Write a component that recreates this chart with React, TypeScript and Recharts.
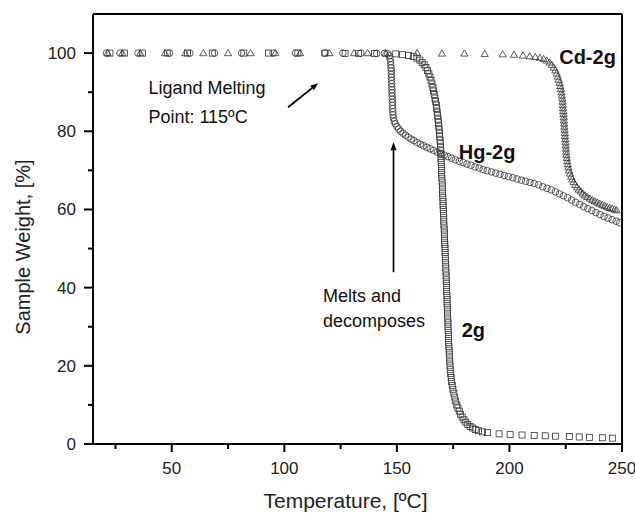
import React from 'react';
import { ScatterChart, Scatter, XAxis, YAxis, ReferenceLine, ReferenceDot, Label } from 'recharts';

// ---- data: temperature (ºC) and sample weight (%) ----
const T_2G = [22.5, 29, 37, 48, 57, 68, 82, 93, 106, 118, 127, 133, 140, 149.5, 152.5, 155.2, 157.3, 158.9, 160.2, 161.2, 162.1, 162.9, 163.6, 164.2, 164.7, 165.2, 165.6, 166.0, 166.3, 166.6, 166.9, 167.2, 167.5, 167.7, 167.9, 168.1, 168.3, 168.5, 168.6, 168.8, 168.9, 169.0, 169.2,
  169.3, 169.4, 169.5, 169.6, 169.6, 169.7, 169.8, 169.9, 169.9, 170.0, 170.1, 170.2, 170.2, 170.3, 170.4, 170.5, 170.5, 170.6, 170.7, 170.8, 170.8, 170.9, 171.0, 171.1, 171.1, 171.2, 171.3, 171.4, 171.4, 171.5, 171.6, 171.7, 171.7, 171.8, 171.9, 171.9, 172.0, 172.1, 172.1, 172.2, 172.3, 172.3, 172.4, 172.5, 172.5, 172.6, 172.7, 172.7, 172.8, 172.9, 172.9, 173.0, 173.1, 173.2, 173.3, 173.4, 173.5, 173.6, 173.7, 173.9, 174.1, 174.3, 174.6, 174.9, 175.3, 175.7, 176.1, 176.6, 177.1, 177.7, 178.3, 179.0, 179.8, 180.6, 181.5, 182.5, 183.6, 184.8, 186.2, 188.0, 190.2, 195.4, 200.3, 205.6, 211.0, 215.9, 220.4, 226.6, 231.0, 235.5, 241.3, 245.8];
const W_2G = [100, 100, 100, 100, 100, 100, 100, 100, 100, 100, 99.9, 99.9, 99.9, 99.8, 99.6, 99.4, 99.1, 98.7, 98.2, 97.6, 97.0, 96.3, 95.5, 94.7, 93.9, 93.0, 92.1, 91.2, 90.3, 89.4, 88.5, 87.6, 86.7, 85.8, 84.9, 84.0, 83.1, 82.2, 81.3, 80.4, 79.5, 78.6, 77.7,
  76.8, 75.9, 75.0, 74.0, 73.0, 72, 71, 70, 69, 68, 67, 66, 65, 64, 63, 62, 61, 60, 59, 58, 57, 56, 55, 54, 53, 52, 51, 50, 49, 48, 47, 46, 45, 44, 43, 42, 41, 40, 39, 38, 37, 36, 35, 34, 33, 32, 31, 30, 29, 28, 27, 26, 25, 24, 23, 22, 21, 20, 19, 18, 17, 16, 15, 14, 13, 12, 11, 10, 9.2, 8.4, 7.6, 6.9, 6.2, 5.6, 5.0, 4.5, 4.1, 3.7, 3.4, 3.1, 2.9, 2.6, 2.4, 2.3, 2.2, 2.1, 2.0, 1.9, 1.8, 1.7, 1.6, 1.5];

const T_HG = [21, 27, 35, 49, 58, 69, 81, 95, 105, 118, 126, 134, 141, 144.5, 146.0, 146.6, 147.0, 147.2, 147.3, 147.4, 147.5, 147.5, 147.6, 147.6, 147.7, 147.7, 147.8, 147.8, 147.9, 147.9, 148.0, 148.0, 148.1, 148.2, 148.3, 148.5, 148.8, 149.3, 150.0, 150.8, 151.7, 152.7, 153.8, 155.0, 156.3, 157.6, 159.0, 160.4, 161.8, 163.3, 164.8, 166.3, 167.9, 169.5, 171.1, 172.7, 174.3, 176.0, 177.7, 179.4, 181.1, 182.9, 184.7, 186.5, 188.3, 190.1, 192.0, 193.9, 195.8, 197.7, 199.6, 201.5, 203.4, 205.3, 207.2, 209.1, 211.0, 212.9, 214.8, 216.7, 218.6, 220.4, 222.2, 224.0, 225.8, 227.6, 229.4, 231.2, 233.0, 234.8, 236.6, 238.4, 240.2, 242.0, 243.8, 245.6, 247.4, 249.0];
const W_HG = [100, 100, 100, 100, 100, 100, 100, 100, 100, 100, 100, 100, 99.9, 99.9, 99.8, 99.3, 98.6, 97.8, 97.0, 96.2, 95.4, 94.6, 93.8, 93.0, 92.2, 91.4, 90.6, 89.8, 89.0, 88.2, 87.4, 86.6, 85.8, 85.0, 84.2, 83.4, 82.6, 81.9, 81.2, 80.6, 80.0, 79.5, 79.0, 78.5, 78.0, 77.6, 77.1, 76.7, 76.3, 75.9, 75.5, 75.1, 74.7, 74.3, 73.9, 73.5, 73.1, 72.7, 72.3, 72.0, 71.6, 71.3, 70.9, 70.6, 70.2, 69.9, 69.6, 69.3, 69.0, 68.7, 68.4, 68.1, 67.8, 67.5, 67.2, 66.9, 66.6, 66.3, 65.8, 65.4, 65.0, 64.5, 64.0, 63.5, 63.0, 62.4, 61.8, 61.3, 60.7, 60.2, 59.7, 59.2, 58.7, 58.2, 57.8, 57.4, 57.0, 56.6];

const T_CD = [21.5, 28, 36, 47, 56, 64, 75, 85, 96, 107, 120, 131, 137, 145, 159, 170, 180, 189, 197, 202, 206, 209, 211.5, 213.5, 215.2, 216.6, 217.8, 218.8, 219.7, 220.4, 221.0, 221.5, 221.9, 222.3, 222.6, 222.9, 223.1, 223.3, 223.5, 223.6, 223.7, 223.8, 223.9, 224.0, 224.1, 224.2, 224.3, 224.4, 224.5, 224.6, 224.7, 224.8, 224.9, 225.0, 225.1, 225.2, 225.3, 225.5, 225.7, 225.9, 226.2, 226.5, 226.9, 227.4, 227.9, 228.5, 229.2, 230.0, 230.8, 231.7, 232.6, 233.6, 234.6, 235.7, 236.8, 237.9, 239.0, 240.1, 241.2, 242.3, 243.4, 244.5, 245.6, 246.7, 247.6];
const W_CD = [100, 100, 100, 100, 100, 100, 100, 100, 100, 100, 100, 100, 100, 100, 100, 99.9, 99.9, 99.8, 99.7, 99.6, 99.4, 99.2, 99.0, 98.8, 98.5, 98.1, 97.6, 97.0, 96.3, 95.6, 94.8, 94.0, 93.2, 92.4, 91.6, 90.8, 90.0, 89.2, 88.4, 87.6, 86.8, 86.0, 85.2, 84.4, 83.6, 82.8, 82.0, 81.2, 80.4, 79.6, 78.8, 78.0, 77.2, 76.4, 75.6, 74.8, 74.0, 73.2, 72.4, 71.6, 70.8, 70.0, 69.2, 68.4, 67.7, 67.0, 66.3, 65.7, 65.1, 64.6, 64.1, 63.6, 63.2, 62.8, 62.4, 62.1, 61.8, 61.5, 61.2, 60.9, 60.6, 60.4, 60.2, 60.0, 59.8];

const X_TICKS = [25, 50, 75, 100, 125, 150, 175, 200, 225, 250];
const Y_TICKS = [0, 10, 20, 30, 40, 50, 60, 70, 80, 90, 100];

const toPoints = (t: number[], w: number[]) => t.map((x, i) => ({ x, y: w[i] }));
const data2g = toPoints(T_2G, W_2G);
const dataHg = toPoints(T_HG, W_HG);
const dataCd = toPoints(T_CD, W_CD);

const FONT = '"Liberation Sans", Arial, Helvetica, sans-serif';
const INK = '#333';

const Square = (p: any) => (
  <rect x={p.cx - 3} y={p.cy - 3} width={6} height={6} fill="none" stroke={INK} strokeWidth={0.8} />
);
const Circle = (p: any) => (
  <circle cx={p.cx} cy={p.cy} r={3.3} fill="none" stroke={INK} strokeWidth={0.8} />
);
const Triangle = (p: any) => (
  <polygon
    points={`${p.cx},${p.cy - 3.6} ${p.cx - 3.6},${p.cy + 2.6} ${p.cx + 3.6},${p.cy + 2.6}`}
    fill="none"
    stroke={INK}
    strokeWidth={0.8}
  />
);

const XTick = (props: any) => {
  const { x, y, payload } = props;
  const major = payload.value % 50 === 0;
  return (
    <g>
      <line x1={x} x2={x} y1={y} y2={y + (major ? 8 : 5)} stroke="#000" strokeWidth={2} />
      {major && (
        <text x={x} y={y + 30} textAnchor="middle" fontSize={17} fontFamily={FONT} fill="#222">
          {payload.value}
        </text>
      )}
    </g>
  );
};

const YTick = (props: any) => {
  const { x, y, payload } = props;
  const major = payload.value % 20 === 0;
  return (
    <g>
      <line x1={x - (major ? 9 : 5)} x2={x} y1={y} y2={y} stroke="#000" strokeWidth={2} />
      {major && (
        <text x={x - 17} y={y + 6} textAnchor="end" fontSize={17} fontFamily={FONT} fill="#222">
          {payload.value}
        </text>
      )}
    </g>
  );
};

const txt = (x: number, y: number, s: string, size: number, bold = false) => (
  <text x={x} y={y} fontSize={size} fontFamily={FONT} fontWeight={bold ? 'bold' : 'normal'} fill="#111">
    {s}
  </text>
);

export default function App() {
  return (
    <div style={{ position: 'absolute', left: 0, top: 0, background: '#fff' }}>
      <ScatterChart width={635} height={522} margin={{ top: 14, right: 13, left: 8, bottom: 8 }}>
        <XAxis
          type="number"
          dataKey="x"
          domain={[15, 250]}
          ticks={X_TICKS}
          interval={0}
          tickSize={0}
          tickMargin={0}
          tickLine={false}
          tick={<XTick />}
          axisLine={{ stroke: '#000', strokeWidth: 2 }}
          height={70}
          allowDataOverflow
        >
          <Label
            content={(p: any) => {
              const vb = p.viewBox;
              return (
                <text x={vb.x + vb.width / 2 - 12} y={vb.y + 64} textAnchor="middle" fontSize={21} fontFamily={FONT} fill="#222">
                  Temperature, [ºC]
                </text>
              );
            }}
          />
        </XAxis>
        <YAxis
          type="number"
          dataKey="y"
          domain={[0, 110]}
          ticks={Y_TICKS}
          interval={0}
          tickSize={0}
          tickMargin={0}
          tickLine={false}
          tick={<YTick />}
          axisLine={{ stroke: '#000', strokeWidth: 2 }}
          width={85}
          allowDataOverflow
        >
          <Label
            content={(p: any) => {
              const vb = p.viewBox;
              const cx = vb.x + 22;
              const cy = vb.y + vb.height / 2 + 18;
              return (
                <text x={cx} y={cy} transform={`rotate(-90 ${cx} ${cy})`} textAnchor="middle" fontSize={20} fontFamily={FONT} fill="#222">
                  Sample Weight, [%]
                </text>
              );
            }}
          />
        </YAxis>
        <ReferenceLine y={110} stroke="#000" strokeWidth={2} />
        <ReferenceLine x={250} stroke="#000" strokeWidth={2} />
        <Scatter data={data2g} shape={Square} isAnimationActive={false} />
        <Scatter data={dataHg} shape={Circle} isAnimationActive={false} />
        <Scatter data={dataCd} shape={Triangle} isAnimationActive={false} />
        <ReferenceDot
          x={39.6}
          y={91}
          r={0}
          shape={(p: any) => (
            <g>
              {txt(p.cx, p.cy + 6, 'Ligand Melting', 18)}
              {txt(p.cx, p.cy + 35, 'Point: 115ºC', 18)}
            </g>
          )}
        />
        <ReferenceDot
          x={115}
          y={92.3}
          r={0}
          shape={(p: any) => (
            <g>
              <line x1={p.cx - 30} y1={p.cy + 24} x2={p.cx - 3} y2={p.cy + 2.4} stroke="#000" strokeWidth={1.8} />
              <polygon points={`${p.cx},${p.cy} ${p.cx - 8},${p.cy + 2.5} ${p.cx - 4},${p.cy + 7}`} fill="#000" />
            </g>
          )}
        />
        <ReferenceDot
          x={117.2}
          y={37.9}
          r={0}
          shape={(p: any) => (
            <g>
              {txt(p.cx, p.cy + 6, 'Melts and', 18)}
              {txt(p.cx, p.cy + 31, 'decomposes', 18)}
            </g>
          )}
        />
        <ReferenceDot
          x={148.5}
          y={77.2}
          r={0}
          shape={(p: any) => (
            <g>
              <line x1={p.cx} y1={p.cy + 6} x2={p.cx} y2={p.cy + 130} stroke="#000" strokeWidth={1.6} />
              <polygon points={`${p.cx},${p.cy} ${p.cx - 3},${p.cy + 8} ${p.cx + 3},${p.cy + 8}`} fill="#000" />
            </g>
          )}
        />
        <ReferenceDot x={222.1} y={99} r={0} shape={(p: any) => txt(p.cx, p.cy + 7, 'Cd-2g', 20, true)} />
        <ReferenceDot x={177.5} y={74.7} r={0} shape={(p: any) => txt(p.cx, p.cy + 7, 'Hg-2g', 20, true)} />
        <ReferenceDot x={178.8} y={29.2} r={0} shape={(p: any) => txt(p.cx, p.cy + 7, '2g', 20, true)} />
      </ScatterChart>
    </div>
  );
}
